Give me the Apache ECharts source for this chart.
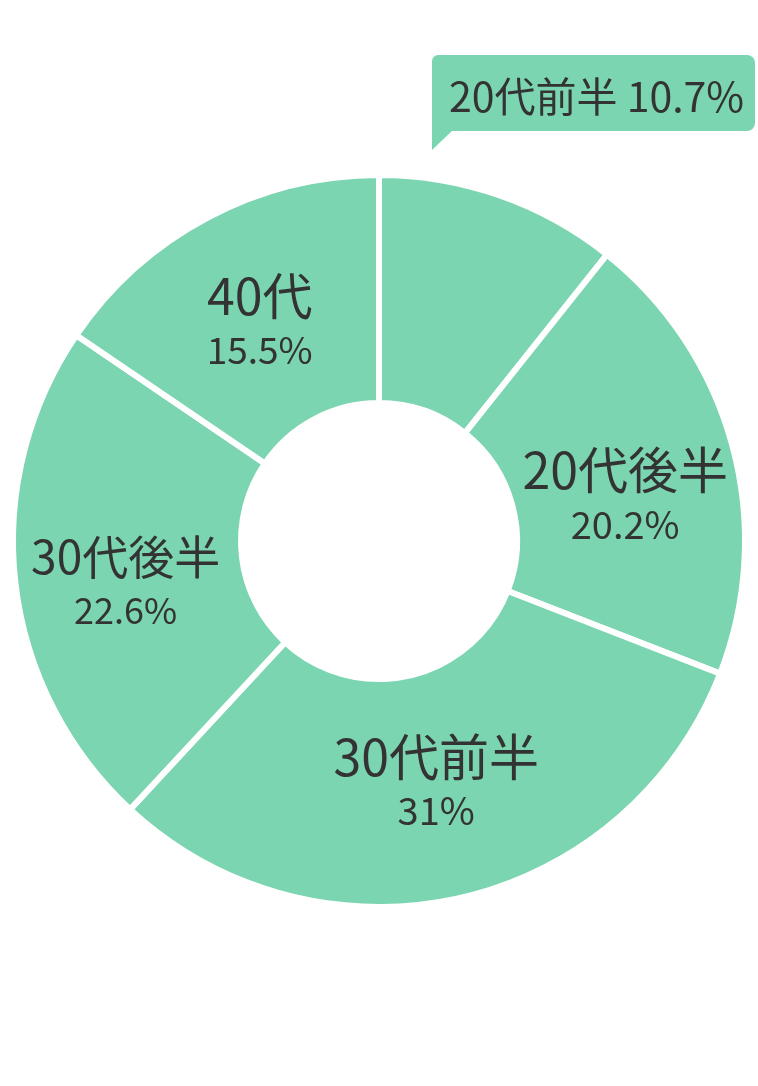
<!DOCTYPE html>
<html>
<head>
<meta charset="utf-8">
<style>
html,body{margin:0;padding:0;background:#fff;}
#chart{width:758px;height:1086px;}
</style>
<script src="https://cdn.jsdelivr.net/npm/echarts@6/dist/echarts.min.js"></script>
</head>
<body>
<div id="chart"></div>
<script>
const categories = ['20代前半', '20代後半', '30代前半', '30代後半', '40代'];
const values = [10.7, 20.2, 31, 22.6, 15.5];

const sliceColor = '#7BD5B1';
const textColor = '#333333';
const font = '"Noto Sans CJK JP", "Noto Sans", sans-serif';

const nameSize = [41, 50, 50, 46, 50];
const pctSize = [41, 38, 38, 36, 37];
const shiftY = [0, 21, -8, 12, 5];

const data = categories.map((name, i) => {
  const item = { name: name, value: values[i] };
  if (i === 0) {
    item.label = {
      position: 'outside',
      formatter: '{b} {c}%',
      fontSize: 41,
      lineHeight: 50,
      color: textColor,
      fontFamily: font,
      backgroundColor: sliceColor,
      borderRadius: [6, 8, 8, 0],
      padding: [16, 10, 10, 17],
      width: 296,
      overflow: 'none',
      align: 'left'
    };
    item.labelLine = { show: false };
  } else {
    item.label = {
      position: 'inside',
      formatter: '{n|{b}}\n{p|{c}%}',
      rich: {
        n: { fontSize: nameSize[i], lineHeight: 58, color: textColor, fontFamily: font, align: 'center' },
        p: { fontSize: pctSize[i], lineHeight: 50, color: textColor, fontFamily: font, align: 'center' }
      }
    };
  }
  return item;
});

const chart = echarts.init(document.getElementById('chart'), null, { renderer: 'canvas' });
chart.setOption({
  animation: false,
  series: [{
    type: 'pie',
    center: [379, 541],
    radius: [138, 366],
    startAngle: 90,
    clockwise: true,
    avoidLabelOverlap: false,
    silent: true,
    itemStyle: { color: sliceColor, borderColor: '#ffffff', borderWidth: 6 },
    label: { show: true, color: textColor, fontFamily: font },
    labelLayout: function (p) {
      if (p.dataIndex === 0) {
        return { x: 432, y: 55, align: 'left', verticalAlign: 'top' };
      }
      return { dy: shiftY[p.dataIndex] };
    },
    data: data
  }],
  graphic: [{
    type: 'polygon',
    silent: true,
    shape: { points: [[432, 130], [453, 130], [432, 150]] },
    style: { fill: sliceColor }
  }]
});
</script>
</body>
</html>
